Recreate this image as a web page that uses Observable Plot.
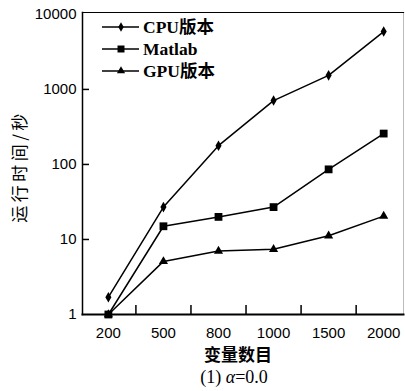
<!DOCTYPE html>
<html><head><meta charset="utf-8">
<script src="https://cdn.jsdelivr.net/npm/d3@7"></script>
<script src="https://cdn.jsdelivr.net/npm/@observablehq/plot@0.6"></script>
<style>
body{margin:0;background:#fff;}
#caption{width:405px;box-sizing:border-box;padding-left:63px;text-align:center;font:18px "Liberation Serif",serif;height:24px;line-height:24px;color:#000;}
</style></head><body>
<div id="chart"></div>
<div id="caption">(1) <i>α</i>=0.0</div>
<script>
const categories = ["200", "500", "800", "1000", "1500", "2000"];
const seriesNames = ["CPU版本", "Matlab", "GPU版本"];
const cpuValues = [1.7, 27, 178, 710, 1540, 5900];
const matlabValues = [1.0, 15, 20, 27, 86, 258];
const gpuValues = [1.0, 5.1, 7.0, 7.4, 11.2, 20.5];
const yTicks = [1, 10, 100, 1000, 10000];
const innerYTicks = [10, 100, 1000];
const xLabel = "变量数目";
const yLabel = "运行时间/秒";

const symbols = ["diamond", "square", "triangle"];
const radii = [3.2, 4.4, 3.4];
const seriesValues = [cpuValues, matlabValues, gpuValues];
const rows = seriesNames.flatMap((s, k) => seriesValues[k].map((v, i) => ({series: s, i, value: v})));
const midTicks = categories.slice(1).map((_, i) => i + 0.5);

const W = 405, H = 365, mL = 82, mR = 2, mT = 12, mB = 51;

const plot = Plot.plot({
  width: W, height: H,
  marginLeft: mL, marginRight: mR, marginTop: mT, marginBottom: mB,
  style: {fontFamily: "'Liberation Sans', Arial, sans-serif", fontSize: "15px", color: "black", background: "white"},
  x: {type: "linear", domain: [-0.47, 5.36]},
  y: {type: "log", domain: [1, 10600]},
  marks: [
    Plot.frame({stroke: "#bbb"}),
    Plot.frame({anchor: "left", stroke: "black", strokeWidth: 1.5}),
    Plot.frame({anchor: "top", stroke: "black", strokeWidth: 1.2}),
    Plot.frame({anchor: "bottom", stroke: "black", strokeWidth: 2}),
    Plot.axisX({ticks: categories.map((_, i) => i), tickFormat: i => categories[i], tickSize: 0, tickPadding: 13, fontSize: 15, label: null}),
    Plot.axisY({ticks: yTicks, tickFormat: d => String(d), tickSize: 0, tickPadding: 6, fontSize: 15, label: null}),
    Plot.ruleX(midTicks, {x: d => d, insetTop: (H - mT - mB) - 9, strokeWidth: 1.5, stroke: "black"}),
    Plot.ruleY(innerYTicks, {y: d => d, insetRight: (W - mL - mR) - 7, strokeWidth: 1.5, stroke: "black"}),
    Plot.line(rows, {x: "i", y: "value", z: "series", stroke: "black", strokeWidth: 1.5}),
    ...seriesNames.map((s, k) => Plot.dot(rows.filter(d => d.series === s), {x: "i", y: "value", symbol: symbols[k], r: radii[k], fill: "black", stroke: "none"})),
    Plot.text([xLabel], {frameAnchor: "bottom", text: d => d, textAnchor: "middle", lineAnchor: "middle", dx: -5, dy: 41, fontSize: 17, fontWeight: "bold", fontFamily: "'Noto Sans CJK SC', sans-serif"}),
    Plot.text([yLabel], {frameAnchor: "left", text: d => d, textAnchor: "middle", lineAnchor: "middle", rotate: -90, dx: -62, dy: 3, fontSize: 17, fontFamily: "'Noto Sans CJK SC', sans-serif"})
  ]
});
document.getElementById("chart").appendChild(plot);

const svg = d3.select(plot);
svg.selectAll("text").filter(function () { return this.textContent === yLabel; })
  .attr("letter-spacing", "3.5px");

// legend inside the frame, top-left
const lg = svg.append("g").attr("transform", `translate(${mL},${mT})`).attr("text-anchor", "start");
const symMap = {diamond: d3.symbolDiamond, square: d3.symbolSquare, triangle: d3.symbolTriangle};
seriesNames.forEach((s, k) => {
  const yy = 15 + k * 22;
  lg.append("line").attr("x1", 20).attr("x2", 57).attr("y1", yy).attr("y2", yy).attr("stroke", "black").attr("stroke-width", 1.5);
  lg.append("path").attr("transform", `translate(39,${yy})`)
    .attr("d", d3.symbol(symMap[symbols[k]], Math.PI * radii[k] * radii[k] * 0.8)())
    .attr("fill", "black");
  lg.append("text").attr("x", 61).attr("y", yy).attr("dy", "0.35em")
    .attr("text-anchor", "start")
    .attr("font-family", "'Liberation Serif', 'Noto Sans CJK SC', serif")
    .attr("font-weight", "bold").attr("font-size", 17.5).attr("fill", "black").text(s);
});
</script>
</body></html>
